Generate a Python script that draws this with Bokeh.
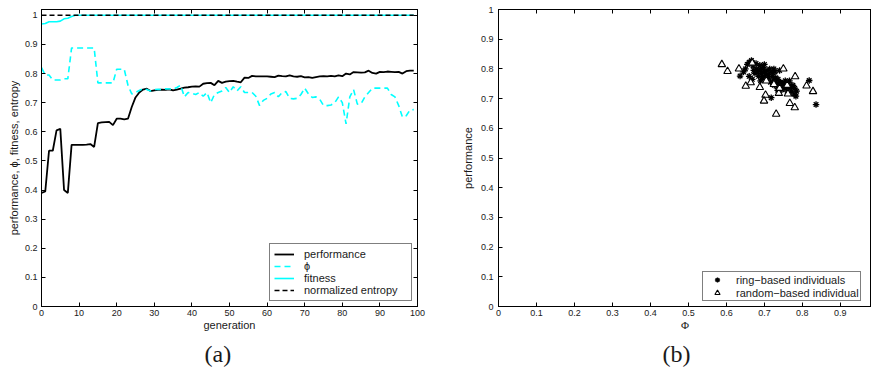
from bokeh.plotting import figure
from bokeh.models import (Range1d, LinearAxis, FixedTicker, CustomJSTickFormatter,
                          Legend, LegendItem, Title)
from bokeh.layouts import row
from bokeh.embed import file_html
from bokeh.resources import INLINE

# ---------------- data: panel (a) ----------------
generation = list(range(100))

performance = [
    0.390, 0.395, 0.535, 0.535, 0.605, 0.610, 0.400, 0.390, 0.555, 0.555,
    0.555, 0.555, 0.556, 0.558, 0.548, 0.630, 0.632, 0.633, 0.634, 0.623,
    0.645, 0.645, 0.643, 0.645, 0.685, 0.718, 0.735, 0.745, 0.748, 0.740,
    0.742, 0.744, 0.745, 0.744, 0.746, 0.742, 0.745, 0.748, 0.752, 0.753,
    0.755, 0.756, 0.755, 0.765, 0.767, 0.768, 0.760, 0.775, 0.768, 0.772,
    0.774, 0.775, 0.772, 0.770, 0.786, 0.785, 0.792, 0.790, 0.790, 0.790,
    0.790, 0.789, 0.788, 0.793, 0.791, 0.790, 0.794, 0.790, 0.789, 0.791,
    0.787, 0.788, 0.785, 0.788, 0.790, 0.791, 0.790, 0.792, 0.790, 0.794,
    0.791, 0.800, 0.797, 0.805, 0.804, 0.803, 0.804, 0.810, 0.802, 0.800,
    0.806, 0.805, 0.807, 0.806, 0.805, 0.806, 0.800, 0.808, 0.810, 0.810,
]

phi = [
    0.820, 0.795, 0.795, 0.778, 0.778, 0.778, 0.782, 0.782, 0.888, 0.888,
    0.888, 0.888, 0.888, 0.888, 0.888, 0.768, 0.768, 0.768, 0.768, 0.768,
    0.815, 0.815, 0.815, 0.760, 0.730, 0.735, 0.742, 0.748, 0.745, 0.740,
    0.745, 0.746, 0.745, 0.748, 0.747, 0.746, 0.752, 0.760, 0.720, 0.735,
    0.732, 0.728, 0.735, 0.722, 0.735, 0.700, 0.728, 0.735, 0.740, 0.752,
    0.735, 0.755, 0.740, 0.755, 0.735, 0.735, 0.735, 0.722, 0.690, 0.708,
    0.715, 0.730, 0.735, 0.720, 0.735, 0.738, 0.715, 0.713, 0.715, 0.728,
    0.750, 0.730, 0.718, 0.720, 0.712, 0.690, 0.690, 0.692, 0.700, 0.720,
    0.700, 0.627, 0.720, 0.745, 0.695, 0.697, 0.720, 0.735, 0.750, 0.750,
    0.750, 0.750, 0.750, 0.728, 0.720, 0.690, 0.650, 0.655, 0.675, 0.676,
]

fitness = [
    0.970, 0.972, 0.978, 0.978, 0.978, 0.980, 0.988, 0.990, 0.996, 1.000,
    1.000, 1.000, 1.000, 1.000, 1.000, 1.000, 1.000, 1.000, 1.000, 1.000,
    1.000, 1.000, 1.000, 1.000, 1.000, 1.000, 1.000, 1.000, 1.000, 1.000,
    1.000, 1.000, 1.000, 1.000, 1.000, 1.000, 1.000, 1.000, 1.000, 1.000,
    1.000, 1.000, 1.000, 1.000, 1.000, 1.000, 1.000, 1.000, 1.000, 1.000,
    1.000, 1.000, 1.000, 1.000, 1.000, 1.000, 1.000, 1.000, 1.000, 1.000,
    1.000, 1.000, 1.000, 1.000, 1.000, 1.000, 1.000, 1.000, 1.000, 1.000,
    1.000, 1.000, 1.000, 1.000, 1.000, 1.000, 1.000, 1.000, 1.000, 1.000,
    1.000, 1.000, 1.000, 1.000, 1.000, 1.000, 1.000, 1.000, 1.000, 1.000,
    1.000, 1.000, 1.000, 1.000, 1.000, 1.000, 1.000, 1.000, 1.000, 1.000,
]

entropy = [
    1.0, 1.0, 1.0, 1.0, 1.0, 1.0, 1.0, 1.0, 1.0, 1.0,
    1.0, 1.0, 1.0, 1.0, 1.0, 1.0, 1.0, 1.0, 1.0, 1.0,
    1.0, 1.0, 1.0, 1.0, 1.0, 1.0, 1.0, 1.0, 1.0, 1.0,
    1.0, 1.0, 1.0, 1.0, 1.0, 1.0, 1.0, 1.0, 1.0, 1.0,
    1.0, 1.0, 1.0, 1.0, 1.0, 1.0, 1.0, 1.0, 1.0, 1.0,
    1.0, 1.0, 1.0, 1.0, 1.0, 1.0, 1.0, 1.0, 1.0, 1.0,
    1.0, 1.0, 1.0, 1.0, 1.0, 1.0, 1.0, 1.0, 1.0, 1.0,
    1.0, 1.0, 1.0, 1.0, 1.0, 1.0, 1.0, 1.0, 1.0, 1.0,
    1.0, 1.0, 1.0, 1.0, 1.0, 1.0, 1.0, 1.0, 1.0, 1.0,
    1.0, 1.0, 1.0, 1.0, 1.0, 1.0, 1.0, 1.0, 1.0, 1.0,
]

gen_ticks = [0, 10, 20, 30, 40, 50, 60, 70, 80, 90, 100]
unit_ticks = [0, 0.1, 0.2, 0.3, 0.4, 0.5, 0.6, 0.7, 0.8, 0.9, 1]

# ---------------- data: panel (b) ----------------
ring_phi = [
    0.636, 0.645, 0.650, 0.655, 0.660, 0.666, 0.670, 0.672, 0.675, 0.678,
    0.680, 0.683, 0.685, 0.688, 0.690, 0.692, 0.695, 0.697, 0.700, 0.702,
    0.705, 0.707, 0.710, 0.712, 0.714, 0.716, 0.718, 0.720, 0.722, 0.724,
    0.726, 0.728, 0.730, 0.732, 0.734, 0.736, 0.738, 0.740, 0.742, 0.744,
    0.746, 0.748, 0.750, 0.752, 0.755, 0.758, 0.760, 0.763, 0.766, 0.770,
    0.772, 0.775, 0.778, 0.780, 0.783, 0.785, 0.818, 0.836, 0.660, 0.668,
    0.700, 0.725, 0.740, 0.690, 0.735, 0.765, 0.745,
]
ring_perf = [
    0.776, 0.790, 0.800, 0.815, 0.822, 0.828, 0.810, 0.795, 0.785, 0.818,
    0.800, 0.790, 0.775, 0.812, 0.798, 0.785, 0.770, 0.805, 0.790, 0.778,
    0.765, 0.795, 0.782, 0.770, 0.800, 0.755, 0.703, 0.788, 0.775, 0.760,
    0.745, 0.790, 0.770, 0.752, 0.740, 0.765, 0.748, 0.735, 0.755, 0.742,
    0.730, 0.750, 0.738, 0.745, 0.760, 0.735, 0.725, 0.748, 0.760, 0.740,
    0.725, 0.745, 0.715, 0.735, 0.708, 0.725, 0.761, 0.680, 0.775, 0.765,
    0.815, 0.800, 0.795, 0.760, 0.728, 0.738, 0.752,
]

random_phi = [
    0.588, 0.603, 0.633, 0.651, 0.664, 0.668, 0.688, 0.703, 0.699, 0.731,
    0.738, 0.750, 0.725, 0.781, 0.811, 0.828, 0.767, 0.780, 0.762, 0.740,
    0.705, 0.760,
]
random_perf = [
    0.815, 0.792, 0.800, 0.742, 0.754, 0.820, 0.738, 0.712, 0.692, 0.648,
    0.718, 0.800, 0.748, 0.774, 0.743, 0.724, 0.684, 0.670, 0.716, 0.735,
    0.760, 0.745,
]
phi_ticks = [0, 0.1, 0.2, 0.3, 0.4, 0.5, 0.6, 0.7, 0.8, 0.9, 1]

SANS = "Liberation Sans"
SERIF = "Liberation Serif"
TXT = "#1a1a1a"
CYAN = "#00ffff"

fmt_code = "return tick.toString()"


def style_axis(ax, ticks, show_labels=True):
    ax.ticker = FixedTicker(ticks=ticks)
    ax.formatter = CustomJSTickFormatter(code=fmt_code)
    ax.major_tick_in = 4
    ax.major_tick_out = 0
    ax.minor_tick_line_color = None
    ax.axis_line_color = "black"
    ax.major_tick_line_color = "black"
    ax.major_label_text_font = SANS
    ax.major_label_text_font_size = "9px"
    if show_labels:
        ax.major_label_text_color = TXT
    else:
        ax.major_label_text_color = None
        ax.major_label_standoff = 0
    ax.axis_label_text_font = SANS
    ax.axis_label_text_font_style = "normal"
    ax.axis_label_text_font_size = "11px"
    ax.axis_label_text_color = TXT


# ---------------- panel (a) ----------------
pa = figure(width=440, height=374, output_backend="svg", toolbar_location=None,
            x_range=Range1d(0, 100), y_range=Range1d(0, 1.02),
            min_border_left=41, min_border_right=23, min_border_top=9,
            min_border_bottom=68)
pa.grid.visible = False
pa.outline_line_color = "black"
pa.background_fill_color = "white"
pa.border_fill_color = "white"

style_axis(pa.xaxis[0], gen_ticks)
pa.xaxis[0].major_label_standoff = 3
pa.xaxis[0].axis_label = "generation"
pa.xaxis[0].axis_label_standoff = 0
style_axis(pa.yaxis[0], unit_ticks)
pa.yaxis[0].major_label_standoff = 4
pa.yaxis[0].axis_label = "performance, \u03d5, fitness, entropy"
pa.yaxis[0].axis_label_standoff = 2

top_a = LinearAxis()
style_axis(top_a, gen_ticks, show_labels=False)
pa.add_layout(top_a, "above")
right_a = LinearAxis()
style_axis(right_a, unit_ticks, show_labels=False)
pa.add_layout(right_a, "right")

r_perf = pa.line(generation, performance, line_color="black", line_width=1.8)
r_phi = pa.line(generation, phi, line_color=CYAN, line_width=1.6, line_dash="6 4")
r_fit = pa.line(generation, fitness, line_color=CYAN, line_width=1.6)
r_ent = pa.line(generation, entropy, line_color="black", line_width=1.6, line_dash="5 3")

leg_a = Legend(items=[
    LegendItem(label="performance", renderers=[r_perf]),
    LegendItem(label="\u03d5", renderers=[r_phi]),
    LegendItem(label="fitness", renderers=[r_fit]),
    LegendItem(label="normalized entropy", renderers=[r_ent]),
], location="bottom_right", margin=5, padding=4, spacing=0,
    glyph_width=20, glyph_height=12, label_height=12, label_width=103,
    label_standoff=10,
    label_text_font=SANS, label_text_font_size="11px", label_text_color=TXT,
    border_line_color="black", border_line_width=1.2,
    background_fill_color="white", background_fill_alpha=1.0)
pa.add_layout(leg_a)

cap_a = Title(text="(a)", align="left", offset=158, padding=5,
              text_font=SERIF, text_font_size="24px", text_font_style="normal",
              text_color=TXT, standoff=0)
pa.add_layout(cap_a, "below")

# ---------------- panel (b) ----------------
pb = figure(width=431, height=374, output_backend="svg", toolbar_location=None,
            x_range=Range1d(0, 0.982), y_range=Range1d(0, 1),
            min_border_left=58, min_border_right=0, min_border_top=8,
            min_border_bottom=65)
pb.grid.visible = False
pb.outline_line_color = "black"
pb.background_fill_color = "white"
pb.border_fill_color = "white"

style_axis(pb.xaxis[0], phi_ticks)
pb.xaxis[0].major_label_standoff = 3
pb.xaxis[0].axis_label = "\u03a6"
pb.xaxis[0].axis_label_text_font = SERIF
pb.xaxis[0].axis_label_standoff = 0
style_axis(pb.yaxis[0], unit_ticks)
pb.yaxis[0].major_label_standoff = 5
pb.yaxis[0].axis_label = "performance"
pb.yaxis[0].axis_label_standoff = 4

top_b = LinearAxis()
style_axis(top_b, phi_ticks, show_labels=False)
pb.add_layout(top_b, "above")

r_ring = pb.scatter(ring_phi, ring_perf, marker="asterisk", size=6.5,
                    line_color="black", line_width=1.3)
r_rand = pb.scatter(random_phi, random_perf, marker="triangle", size=7.5,
                    line_color="black", fill_color="white", line_width=1.1)

leg_b = Legend(items=[
    LegendItem(label="ring\u2212based individuals", renderers=[r_ring]),
    LegendItem(label="random\u2212based individual", renderers=[r_rand]),
], location=(204, 5), padding=1, spacing=0,
    glyph_width=26, glyph_height=13, label_height=13, label_standoff=6,
    label_text_font=SANS, label_text_font_size="11px", label_text_color=TXT,
    border_line_color="black", border_line_width=1.2,
    background_fill_color="white", background_fill_alpha=1.0)
pb.add_layout(leg_b)

cap_b = Title(text="(b)", align="left", offset=159, padding=5,
              text_font=SERIF, text_font_size="24px", text_font_style="normal",
              text_color=TXT, standoff=0)
pb.add_layout(cap_b, "below")

layout = row(pa, pb)
open("out.html", "w").write(file_html(layout, INLINE))
